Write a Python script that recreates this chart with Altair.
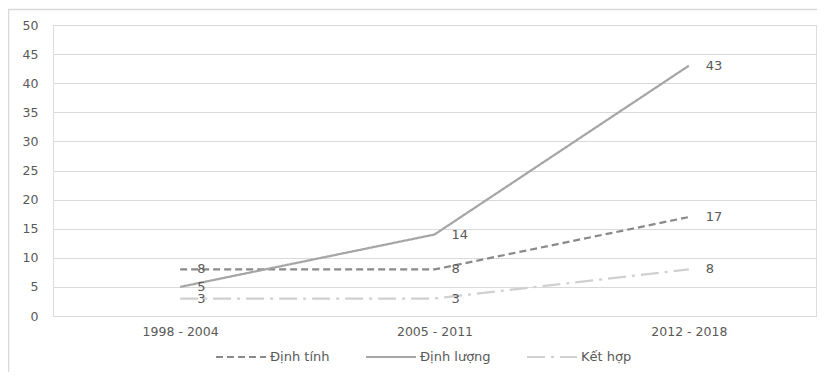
import altair as alt
import pandas as pd

periods = ["1998 - 2004", "2005 - 2011", "2012 - 2018"]
series = ["Định tính", "Định lượng", "Kết hợp"]
dinh_tinh = [8, 8, 17]
dinh_luong = [5, 14, 43]
ket_hop = [3, 3, 8]
y_ticks = [0, 5, 10, 15, 20, 25, 30, 35, 40, 45, 50]

rows = []
for name, vals in zip(series, [dinh_tinh, dinh_luong, ket_hop]):
    for p, v in zip(periods, vals):
        rows.append({"period": p, "series": name, "value": v})
df = pd.DataFrame(rows)

FONT = "DejaVu Sans"
TXT = "#595959"
W, H = 763, 291

x = alt.X("period:N", sort=periods, title=None,
          scale=alt.Scale(paddingOuter=0.5, paddingInner=0),
          axis=alt.Axis(labelAngle=0, domain=False, ticks=False, grid=False,
                        labelColor=TXT, labelFont=FONT, labelFontSize=12.5, labelPadding=9))
y = alt.Y("value:Q", title=None,
          scale=alt.Scale(domain=[0, 50], nice=False),
          axis=alt.Axis(values=y_ticks, domain=False, ticks=False,
                        gridColor="#d9d9d9", gridWidth=1, labelOverlap=False,
                        labelColor=TXT, labelFont=FONT, labelFontSize=12.5, labelPadding=15))

legend = alt.Legend(
    title=None, orient="none", direction="horizontal", legendX=162, legendY=306,
    symbolType="stroke", symbolSize=2500, symbolStrokeWidth=2,
    labelFont=FONT, labelFontSize=13,
    labelColor=TXT, labelOffset=3,
    columnPadding=32, padding=0,
)

color = alt.Color("series:N", sort=series,
                  scale=alt.Scale(domain=series, range=["#8a8a8a", "#a6a6a6", "#d0d0d0"]),
                  legend=legend)
dash = alt.StrokeDash("series:N", sort=series,
                      scale=alt.Scale(domain=series, range=[[7, 4], [1, 0], [18, 6, 3, 6]]),
                      legend=legend)

lines = alt.Chart(df).mark_line(strokeWidth=2.25).encode(x=x, y=y, color=color, strokeDash=dash,
                                                         detail="series:N")

labels = alt.Chart(df).mark_text(align="left", baseline="middle", dx=17, font=FONT,
                                 fontSize=13, color=TXT).encode(
    x=x, y=y, text="value:Q")

border = alt.Chart(pd.DataFrame({"b": [0]})).mark_rect(
    fill=None, stroke="#d9d9d9", strokeWidth=1.5).encode(
    x=alt.value(-44.5), x2=alt.value(W + 60), y=alt.value(-15.5), y2=alt.value(H + 90))

chart = alt.layer(border, lines, labels).properties(
    width=W, height=H,
    autosize=alt.AutoSizeParams(type="none"),
    padding={"left": 45, "top": 17, "right": 1, "bottom": 56},
).configure_view(stroke="transparent", strokeWidth=0).configure(background="white")

chart.save("out.html", embed_options={"renderer": "svg", "actions": False})
